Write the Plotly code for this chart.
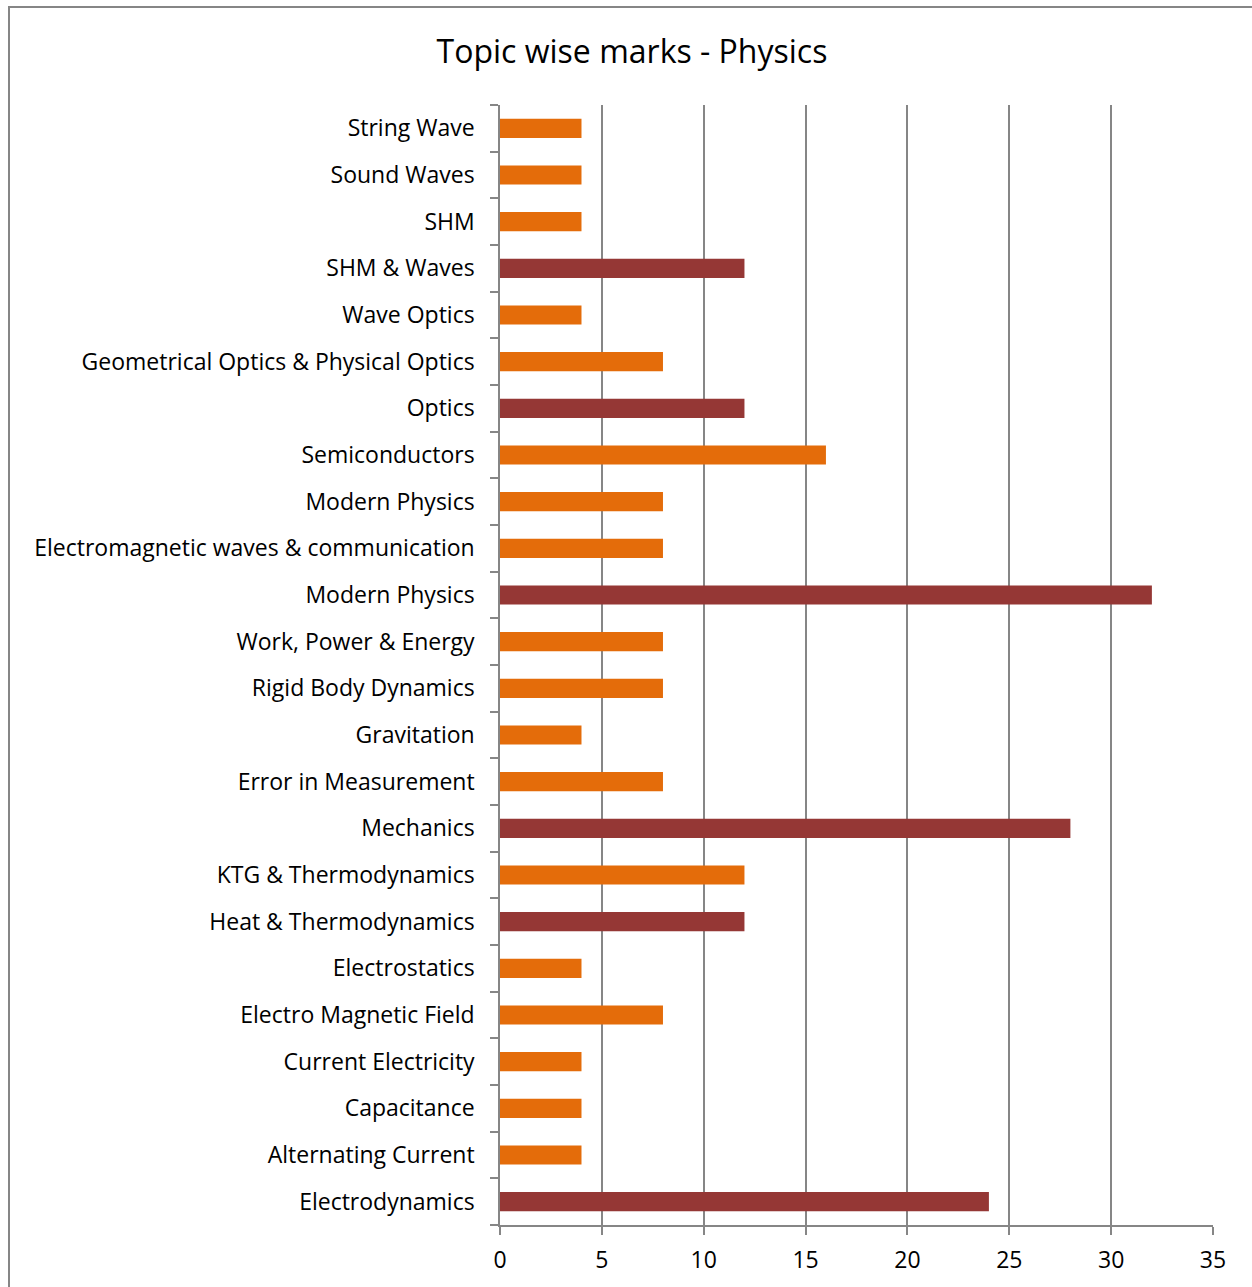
import plotly.graph_objects as go

categories = [
    "Electrodynamics", "Alternating Current", "Capacitance", "Current Electricity",
    "Electro Magnetic Field", "Electrostatics", "Heat & Thermodynamics",
    "KTG & Thermodynamics", "Mechanics", "Error in Measurement", "Gravitation",
    "Rigid Body Dynamics", "Work, Power & Energy", "Modern Physics",
    "Electromagnetic waves & communication", "Modern Physics", "Semiconductors",
    "Optics", "Geometrical Optics & Physical Optics", "Wave Optics", "SHM & Waves",
    "SHM", "Sound Waves", "String Wave",
]
values = [24, 4, 4, 4, 8, 4, 12, 12, 28, 8, 4, 8, 8, 32, 8, 8, 16, 12, 8, 4, 12, 4, 4, 4]
is_group = [True, False, False, False, False, False, True, False, True, False, False,
            False, False, True, False, False, False, True, False, False, True, False,
            False, False]
x_ticks = [0, 5, 10, 15, 20, 25, 30, 35]

ORANGE = "#E46C0A"
DARKRED = "#953735"
GRAY = "#868686"
FONT = "Open Sans"

n = len(categories)
pos = list(range(n))
colors = [DARKRED if g else ORANGE for g in is_group]

fig = go.Figure(go.Bar(
    x=values, y=pos, orientation="h", marker=dict(color=colors, line=dict(width=0)),
    hoverinfo="x+text", text=categories, textposition="none",
))

fig.update_layout(
    width=1252, height=1287,
    margin=dict(l=500, r=39, t=105, b=62),
    paper_bgcolor="white", plot_bgcolor="white",
    bargap=0.59,
    showlegend=False,
    title=dict(text="Topic wise marks - Physics", x=632 / 1252, xanchor="center",
               y=1 - 52 / 1287, yanchor="middle",
               font=dict(family=FONT, size=32, color="black")),
    font=dict(family=FONT, size=23, color="black"),
)
fig.update_xaxes(
    range=[0, 35], tickvals=x_ticks, showgrid=True, gridcolor=GRAY, gridwidth=1.5,
    showline=True, linecolor=GRAY, linewidth=1.5, ticks="outside", ticklen=8,
    tickcolor=GRAY, tickwidth=1.5, zeroline=False,
    tickfont=dict(family=FONT, size=23, color="black"), ticklabelstandoff=6,
)
fig.update_yaxes(
    range=[-0.5, n - 0.5], tickvals=pos, ticktext=categories, showgrid=False,
    showline=True, linecolor=GRAY, linewidth=1.5, ticks="", zeroline=False,
    ticklabelstandoff=19,
    minor=dict(tickvals=[p - 0.5 for p in pos] + [n - 0.5], ticks="outside",
               ticklen=8, tickcolor=GRAY, tickwidth=1.5, showgrid=False),
    tickfont=dict(family=FONT, size=23, color="black"),
)
fig.add_shape(type="rect", xref="paper", yref="paper",
              x0=(9 - 500) / 713, x1=1.2, y0=-0.2, y1=1 + (105 - 7) / 1120,
              line=dict(color=GRAY, width=2), fillcolor="rgba(0,0,0,0)", layer="below")

fig.write_html("out.html", config={"displayModeBar": False},
               post_script="document.body.style.margin='0';")
